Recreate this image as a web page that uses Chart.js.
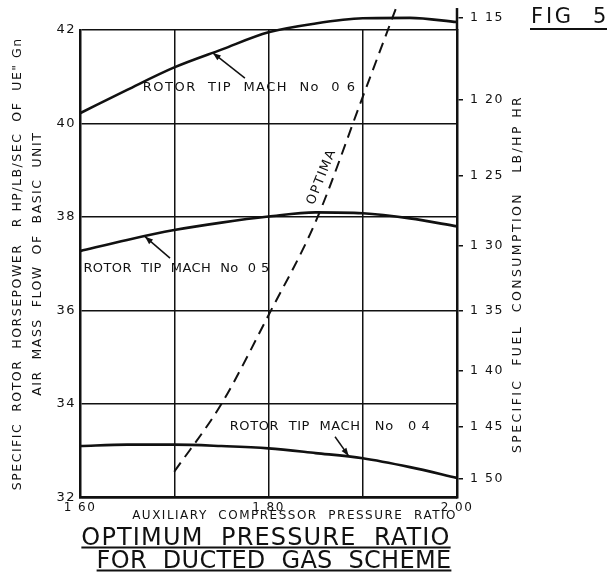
<!DOCTYPE html>
<html><head><meta charset="utf-8">
<script src="https://cdn.jsdelivr.net/npm/chart.js@4.4.0/dist/chart.umd.min.js"></script>
<style>html,body{margin:0;padding:0;background:#fff;} canvas{display:block;}</style>
</head><body>
<canvas id="c" width="609" height="575"></canvas>
<script>
// ---- data ----
const pressureRatio = [1.60, 1.65, 1.70, 1.75, 1.80, 1.85, 1.90, 1.95, 2.00];
const mach06 = [40.22, 40.72, 41.20, 41.58, 41.95, 42.14, 42.25, 42.26, 42.17];
const mach05 = [37.27, 37.51, 37.72, 37.88, 38.01, 38.10, 38.08, 37.97, 37.80];
const mach04 = [33.10, 33.13, 33.13, 33.10, 33.05, 32.95, 32.84, 32.65, 32.42];
const optimaRatio = [1.70, 1.75, 1.80, 1.85, 1.90, 1.935];
const optimaPower = [32.55, 34.00, 35.90, 37.90, 40.57, 42.45];
const powerTicks = [32, 34, 36, 38, 40, 42];
const sfcTicks = [1.15, 1.20, 1.25, 1.30, 1.35, 1.40, 1.45, 1.50];
const ratioTickLabels = {160: '1 60', 180: '1 80', 200: '2 00'};
const SFC_TIMES_POWER = 48.6; // specific fuel consumption × specific power (constant)

const ink = '#111';
Chart.defaults.font.family = "'DejaVu Sans', sans-serif";
Chart.defaults.color = ink;

const toPts = (xs, ys) => xs.map((x, i) => ({x, y: ys[i]}));
const sfcLabel = s => s.toFixed(2).replace('.', ' ');

const notes = [
  {text: 'ROTOR  TIP  MACH  No  0 6', at: [1.780, 40.76], tip: [1.741, 41.51], tail: [1.775, 40.97], ls: 1.5},
  {text: 'ROTOR  TIP  MACH  No  0 5', at: [1.7024, 36.89], tip: [1.669, 37.58], tail: [1.6955, 37.12], ls: 0.4},
  {text: 'ROTOR  TIP  MACH   No   0 4', at: [1.8653, 33.51], tip: [1.885, 32.89], tail: [1.8706, 33.30], ls: 0.6}
];

function arrow(ctx, x1, y1, x2, y2) {
  ctx.beginPath(); ctx.moveTo(x1, y1); ctx.lineTo(x2, y2); ctx.stroke();
  const a = Math.atan2(y2 - y1, x2 - x1), L = 8, W = 3;
  ctx.beginPath(); ctx.moveTo(x2, y2);
  ctx.lineTo(x2 - L * Math.cos(a) + W * Math.sin(a), y2 - L * Math.sin(a) - W * Math.cos(a));
  ctx.lineTo(x2 - L * Math.cos(a) - W * Math.sin(a), y2 - L * Math.sin(a) + W * Math.cos(a));
  ctx.closePath(); ctx.fill();
}

const lettering = {
  id: 'lettering',
  beforeDraw(chart) { chart.ctx.letterSpacing = '1.5px'; },
  afterDraw(chart) {
    const ctx = chart.ctx, xs = chart.scales.x, ys = chart.scales.y, y2 = chart.scales.y2;
    const px = v => xs.getPixelForValue(v), py = v => ys.getPixelForValue(v);
    ctx.save();
    ctx.fillStyle = ink; ctx.strokeStyle = ink;
    // right axis line continues above the top grid line up to the 1.15 tick
    ctx.lineWidth = 2.5;
    ctx.beginPath(); ctx.moveTo(y2.left, y2.getPixelForValue(42)); ctx.lineTo(y2.left, y2.getPixelForValue(42.47)); ctx.stroke();
    // curve labels with leader arrows
    ctx.font = "13px 'DejaVu Sans'";
    ctx.textAlign = 'center'; ctx.textBaseline = 'middle';
    notes.forEach(n => {
      ctx.letterSpacing = n.ls + 'px';
      ctx.fillText(n.text, px(n.at[0]), py(n.at[1]));
      ctx.lineWidth = 1.5;
      arrow(ctx, px(n.tail[0]), py(n.tail[1]), px(n.tip[0]), py(n.tip[1]));
    });
    // OPTIMA along dashed line
    ctx.save();
    ctx.letterSpacing = '1.5px';
    ctx.translate(px(1.8564), py(38.86));
    ctx.rotate(-68 * Math.PI / 180);
    ctx.fillText('OPTIMA', 0, 0);
    ctx.restore();
    // right axis title
    ctx.save();
    ctx.letterSpacing = '2.4px';
    ctx.font = "12.5px 'DejaVu Sans'";
    ctx.translate(518, 274);
    ctx.rotate(-Math.PI / 2);
    ctx.fillText('SPECIFIC  FUEL  CONSUMPTION   LB/HP HR', 0, 0);
    ctx.restore();
    // FIG 5
    ctx.textAlign = 'left'; ctx.textBaseline = 'alphabetic';
    ctx.letterSpacing = '2.8px';
    ctx.font = "21px 'DejaVu Sans'";
    ctx.fillText('FIG  5', 531, 23);
    ctx.lineWidth = 1.8;
    ctx.beginPath(); ctx.moveTo(530, 29); ctx.lineTo(607, 29); ctx.stroke();
    // main title, underlined
    ctx.font = "24px 'DejaVu Sans'";
    ctx.textAlign = 'center';
    [['OPTIMUM  PRESSURE  RATIO', 266, 545, 547.5, 1.15], ['FOR  DUCTED  GAS  SCHEME', 274, 568, 570.5, 0.3]].forEach(([t, cx, by, uy, ls]) => {
      ctx.letterSpacing = ls + 'px';
      ctx.fillText(t, cx, by);
      const w = ctx.measureText(t).width;
      ctx.lineWidth = 2;
      ctx.beginPath(); ctx.moveTo(cx - w / 2, uy); ctx.lineTo(cx + w / 2, uy); ctx.stroke();
    });
    ctx.restore();
  }
};

const lineStyle = {borderColor: ink, borderWidth: 2.6, pointRadius: 0, fill: false, clip: false, cubicInterpolationMode: 'monotone'};

new Chart(document.getElementById('c'), {
  type: 'line',
  data: {
    datasets: [
      Object.assign({label: 'Rotor tip Mach No 0.6', data: toPts(pressureRatio, mach06)}, lineStyle),
      Object.assign({label: 'Rotor tip Mach No 0.5', data: toPts(pressureRatio, mach05)}, lineStyle),
      Object.assign({label: 'Rotor tip Mach No 0.4', data: toPts(pressureRatio, mach04)}, lineStyle),
      Object.assign({label: 'Optima', data: toPts(optimaRatio, optimaPower)}, lineStyle, {borderWidth: 2, borderDash: [11, 7]})
    ]
  },
  options: {
    responsive: false,
    animation: false,
    layout: {padding: {top: 30, bottom: 51.5, left: 0, right: 0}},
    plugins: {legend: {display: false}, tooltip: {enabled: false}},
    scales: {
      x: {
        type: 'linear', min: 1.6, max: 2.0,
        ticks: {stepSize: 0.1, autoSkip: false, maxRotation: 0, padding: 3, font: {size: 12},
          callback: v => ratioTickLabels[Math.round(v * 100)] ?? ''},
        grid: {color: ink, lineWidth: 1.5, drawTicks: false},
        border: {color: ink, width: 2.5},
        title: {display: true, text: 'AUXILIARY  COMPRESSOR  PRESSURE  RATIO', align: 'end', font: {size: 12}, padding: 0},
        afterFit: s => { s.height = 26; }
      },
      y: {
        position: 'left', min: 32, max: 42,
        afterBuildTicks: s => { s.ticks = powerTicks.map(v => ({value: v})); },
        ticks: {autoSkip: false, padding: 4, font: {size: 13}, callback: v => String(v)},
        grid: {color: ink, lineWidth: 1.5, drawTicks: false},
        border: {color: ink, width: 2.5},
        title: {display: true,
          text: ['SPECIFIC  ROTOR  HORSEPOWER   R HP/LB/SEC  OF  UE" Gn', 'AIR  MASS  FLOW  OF  BASIC  UNIT'],
          font: {size: 12.5, lineHeight: 1.6}, padding: {top: 8, bottom: 0}},
        afterFit: s => { s.width = 80; }
      },
      y2: {
        position: 'right', min: 32, max: 42,
        afterBuildTicks: s => { s.ticks = sfcTicks.map(v => ({value: SFC_TIMES_POWER / v})); },
        ticks: {autoSkip: false, padding: 7, font: {size: 12.5}, callback: (v, i) => sfcLabel(sfcTicks[i])},
        grid: {color: ink, lineWidth: 1.5, drawOnChartArea: false, tickLength: 6},
        border: {color: ink, width: 2.5},
        afterFit: s => { s.width = 152; }
      }
    }
  },
  plugins: [lettering]
});
</script>
</body></html>
